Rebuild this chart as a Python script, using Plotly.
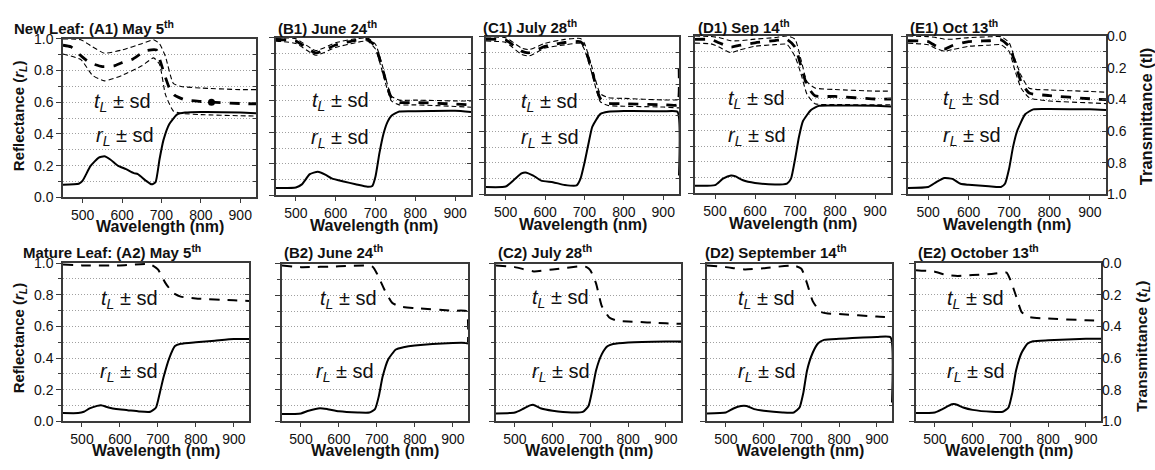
import plotly.graph_objects as go

# ---------------- DATA ----------------
# Row 1 : New leaf
WL_A1_R = [450, 490, 500, 520, 540, 555, 570, 590, 610, 630, 640, 660, 675, 685, 695, 705, 720, 740, 760, 800, 900, 940]
R_A1 = [0.080, 0.086, 0.106, 0.198, 0.249, 0.259, 0.239, 0.198, 0.178, 0.153, 0.147, 0.106, 0.082, 0.096, 0.239, 0.361, 0.463, 0.524, 0.535, 0.539, 0.535, 0.530]
WL_A1_T = [450, 470, 495, 518, 550, 580, 600, 625, 660, 687, 697, 707, 720, 733, 760, 800, 900, 940]
T_A1 = [0.04, 0.05, 0.105, 0.15, 0.175, 0.17, 0.15, 0.13, 0.075, 0.07, 0.14, 0.22, 0.31, 0.355, 0.385, 0.395, 0.408, 0.41]
WL_A1_TSD = [450, 495, 525, 555, 600, 650, 680, 695, 710, 730, 750, 800, 900, 940]
T_A1_HI = [0.0, 0.005, 0.05, 0.09, 0.07, 0.03, 0.005, 0.03, 0.11, 0.28, 0.30, 0.31, 0.32, 0.32]
T_A1_LO = [0.095, 0.13, 0.23, 0.265, 0.23, 0.17, 0.12, 0.16, 0.35, 0.455, 0.47, 0.478, 0.485, 0.487]
DOT_A1_WL = [827]
DOT_A1_T = [0.40]

WL_B1_R = [450, 500, 515, 535, 555, 575, 590, 620, 650, 680, 692, 700, 710, 720, 730, 740, 760, 800, 900, 940]
R_B1 = [0.047, 0.05, 0.07, 0.135, 0.15, 0.13, 0.108, 0.088, 0.071, 0.055, 0.06, 0.12, 0.27, 0.39, 0.465, 0.506, 0.533, 0.535, 0.537, 0.53]
WL_B1_T = [450, 500, 550, 600, 650, 680, 700, 720, 740, 760, 800, 900, 940]
T_B1 = [0.01, 0.02, 0.095, 0.045, 0.015, 0.01, 0.055, 0.22, 0.38, 0.41, 0.41, 0.42, 0.425]
T_B1_HI = [0.0, 0.005, 0.08, 0.03, 0.005, 0.0, 0.04, 0.20, 0.37, 0.395, 0.395, 0.40, 0.40]
T_B1_LO = [0.02, 0.035, 0.11, 0.06, 0.03, 0.02, 0.07, 0.24, 0.40, 0.425, 0.425, 0.435, 0.44]

WL_C1_R = [450, 500, 520, 540, 550, 570, 590, 620, 650, 680, 690, 700, 710, 720, 740, 760, 800, 900, 936, 940]
R_C1 = [0.047, 0.05, 0.09, 0.133, 0.14, 0.12, 0.088, 0.078, 0.06, 0.057, 0.10, 0.20, 0.32, 0.43, 0.51, 0.525, 0.53, 0.528, 0.525, 0.12]
WL_C1_T = [450, 500, 540, 560, 600, 650, 690, 700, 720, 740, 760, 800, 900, 936, 940]
T_C1 = [0.014, 0.02, 0.09, 0.10, 0.06, 0.035, 0.03, 0.06, 0.225, 0.39, 0.42, 0.424, 0.43, 0.43, 0.17]
T_C1_HI = [0.0, 0.005, 0.07, 0.08, 0.04, 0.015, 0.01, 0.04, 0.20, 0.36, 0.385, 0.39, 0.40, 0.40, 0.40]
T_C1_LO = [0.025, 0.035, 0.11, 0.12, 0.07, 0.05, 0.04, 0.08, 0.24, 0.41, 0.435, 0.44, 0.445, 0.45, 0.45]

WL_D1_R = [450, 500, 520, 540, 550, 570, 600, 650, 680, 690, 700, 710, 720, 740, 760, 800, 900, 940]
R_D1 = [0.049, 0.053, 0.094, 0.114, 0.11, 0.084, 0.067, 0.057, 0.063, 0.094, 0.216, 0.36, 0.46, 0.53, 0.557, 0.559, 0.557, 0.553]
WL_D1_T = [450, 490, 510, 540, 560, 600, 650, 680, 700, 715, 730, 750, 800, 900, 940]
T_D1 = [0.022, 0.022, 0.043, 0.07, 0.06, 0.043, 0.029, 0.022, 0.07, 0.19, 0.314, 0.38, 0.384, 0.40, 0.40]
T_D1_HI = [0.0, 0.003, 0.01, 0.03, 0.03, 0.02, 0.01, 0.0, 0.02, 0.15, 0.29, 0.33, 0.34, 0.35, 0.35]
T_D1_LO = [0.045, 0.05, 0.07, 0.106, 0.09, 0.065, 0.055, 0.053, 0.13, 0.24, 0.37, 0.43, 0.435, 0.437, 0.437]

WL_E1_R = [450, 500, 520, 540, 560, 580, 600, 650, 680, 690, 700, 710, 720, 740, 760, 800, 900, 940]
R_E1 = [0.041, 0.047, 0.078, 0.104, 0.098, 0.067, 0.061, 0.051, 0.047, 0.067, 0.16, 0.30, 0.40, 0.506, 0.537, 0.539, 0.537, 0.533]
WL_E1_T = [450, 500, 520, 540, 560, 600, 650, 680, 700, 715, 730, 750, 800, 900, 940]
T_E1 = [0.03, 0.035, 0.065, 0.082, 0.06, 0.035, 0.03, 0.024, 0.065, 0.167, 0.29, 0.36, 0.376, 0.396, 0.402]
T_E1_HI = [0.0, 0.004, 0.01, 0.02, 0.02, 0.01, 0.005, 0.004, 0.04, 0.15, 0.25, 0.33, 0.34, 0.35, 0.355]
T_E1_LO = [0.045, 0.055, 0.08, 0.096, 0.086, 0.065, 0.058, 0.055, 0.096, 0.22, 0.33, 0.39, 0.41, 0.422, 0.427]

# Row 2 : Mature leaf
WL_A2_R = [450, 490, 505, 520, 540, 550, 570, 590, 620, 650, 680, 695, 705, 715, 730, 745, 760, 800, 850, 900, 940]
R_A2 = [0.053, 0.053, 0.061, 0.082, 0.098, 0.102, 0.088, 0.078, 0.071, 0.063, 0.061, 0.088, 0.18, 0.28, 0.40, 0.476, 0.49, 0.50, 0.51, 0.52, 0.52]
WL_A2_T = [450, 500, 600, 680, 700, 720, 740, 760, 800, 900, 940]
T_A2 = [0.01, 0.015, 0.015, 0.008, 0.04, 0.127, 0.188, 0.212, 0.224, 0.235, 0.24]

WL_B2_R = [450, 500, 520, 550, 570, 600, 650, 680, 695, 705, 715, 730, 750, 770, 800, 900, 935, 940]
R_B2 = [0.047, 0.051, 0.068, 0.084, 0.078, 0.064, 0.057, 0.057, 0.078, 0.16, 0.283, 0.395, 0.457, 0.471, 0.482, 0.498, 0.498, 0.495]
WL_B2_T = [450, 500, 600, 680, 690, 700, 720, 740, 760, 800, 900, 936, 940]
T_B2 = [0.01, 0.02, 0.015, 0.01, 0.02, 0.06, 0.164, 0.246, 0.27, 0.28, 0.297, 0.30, 0.50]

WL_C2_R = [450, 500, 520, 540, 550, 570, 600, 650, 680, 695, 705, 715, 730, 745, 760, 800, 900, 940]
R_C2 = [0.051, 0.057, 0.078, 0.102, 0.105, 0.082, 0.068, 0.057, 0.061, 0.098, 0.20, 0.324, 0.426, 0.477, 0.492, 0.502, 0.508, 0.508]
WL_C2_T = [450, 500, 550, 600, 680, 690, 700, 715, 730, 750, 770, 800, 900, 940]
T_C2 = [0.01, 0.02, 0.047, 0.035, 0.014, 0.02, 0.04, 0.123, 0.266, 0.34, 0.36, 0.365, 0.377, 0.38]

WL_D2_R = [450, 500, 520, 540, 555, 575, 600, 650, 680, 695, 705, 715, 730, 745, 760, 800, 900, 936, 940]
R_D2 = [0.051, 0.057, 0.082, 0.098, 0.098, 0.078, 0.068, 0.057, 0.057, 0.088, 0.18, 0.324, 0.436, 0.498, 0.518, 0.525, 0.537, 0.535, 0.12]
WL_D2_T = [450, 500, 550, 600, 680, 700, 715, 730, 750, 770, 800, 900, 940]
T_D2 = [0.01, 0.02, 0.035, 0.027, 0.01, 0.03, 0.123, 0.236, 0.303, 0.314, 0.318, 0.334, 0.338]

WL_E2_R = [450, 500, 520, 545, 555, 575, 600, 650, 680, 695, 705, 715, 730, 745, 760, 800, 900, 940]
R_E2 = [0.053, 0.057, 0.078, 0.108, 0.108, 0.088, 0.073, 0.061, 0.061, 0.088, 0.18, 0.322, 0.435, 0.49, 0.506, 0.512, 0.522, 0.522]
WL_E2_T = [450, 500, 530, 560, 600, 650, 680, 690, 700, 715, 730, 750, 800, 900, 940]
T_E2 = [0.045, 0.055, 0.076, 0.082, 0.076, 0.069, 0.061, 0.06, 0.106, 0.208, 0.31, 0.341, 0.351, 0.361, 0.365]

TITLES = [
    "New Leaf: (A1) May 5<sup>th</sup>", "(B1) June 24<sup>th</sup>", "(C1) July 28<sup>th</sup>",
    "(D1) Sep 14<sup>th</sup>", "(E1) Oct 13<sup>th</sup>",
    "Mature Leaf: (A2) May 5<sup>th</sup>", "(B2) June 24<sup>th</sup>", "(C2) July 28<sup>th</sup>",
    "(D2) September 14<sup>th</sup>", "(E2) October 13<sup>th</sup>",
]
X_TICKS = [500, 600, 700, 800, 900]
Y_TICKS = [0.0, 0.2, 0.4, 0.6, 0.8, 1.0]
X_RANGE = [450, 940]
X_TITLE = "<b>Wavelength (nm)</b>"
T_LABEL = "<i>t</i><sub><i>L</i></sub> ± sd"
R_LABEL = "<i>r</i><sub><i>L</i></sub> ± sd"

# ---------------- LAYOUT GEOMETRY (pixels) ----------------
W, H = 1155, 470
# (left, right, top, bottom) of every plot frame
FRAMES = [
    (63, 256, 32, 196), (276, 471, 31, 194), (486, 679, 30, 193), (695, 891, 29, 192), (908, 1106, 29, 193),
    (63, 249, 264, 428), (282, 468, 265, 428), (496, 681, 265, 428), (707, 892, 265, 428), (916, 1101, 264, 428),
]
TITLE_POS = [(12, 20), (276, 20), (481, 19), (696, 19), (908, 19),
             (21, 252), (282, 252), (496, 252), (703, 252), (916, 252)]
XTITLE_Y = [226, 225, 224, 223, 224, 458, 458, 458, 458, 458]
# label positions (wavelength, reflectance-scale) for the two in-plot labels
LBL_T = [(602, 0.60), (612, 0.598), (612, 0.584), (604, 0.594), (608, 0.598),
         (624, 0.771), (624, 0.775), (622, 0.778), (608, 0.775), (608, 0.77)]
LBL_R = [(607, 0.385), (612, 0.363), (612, 0.355), (604, 0.363), (608, 0.363),
         (624, 0.312), (616, 0.313), (622, 0.313), (608, 0.313), (608, 0.31)]

FONT = "Liberation Sans, Arial, Helvetica, sans-serif"
FRAME_COLOR = "#3a3a3a"
GRID_COLOR = "#a0a0a0"
GRID_DASH = "1px,2px"

ROW1 = [
    dict(wr=WL_A1_R, r=R_A1, wt=WL_A1_T, t=T_A1, wsd=WL_A1_TSD, hi=T_A1_HI, lo=T_A1_LO),
    dict(wr=WL_B1_R, r=R_B1, wt=WL_B1_T, t=T_B1, wsd=WL_B1_T, hi=T_B1_HI, lo=T_B1_LO),
    dict(wr=WL_C1_R, r=R_C1, wt=WL_C1_T, t=T_C1, wsd=WL_C1_T, hi=T_C1_HI, lo=T_C1_LO),
    dict(wr=WL_D1_R, r=R_D1, wt=WL_D1_T, t=T_D1, wsd=WL_D1_T, hi=T_D1_HI, lo=T_D1_LO),
    dict(wr=WL_E1_R, r=R_E1, wt=WL_E1_T, t=T_E1, wsd=WL_E1_T, hi=T_E1_HI, lo=T_E1_LO),
]
ROW2 = [
    dict(wr=WL_A2_R, r=R_A2, wt=WL_A2_T, t=T_A2),
    dict(wr=WL_B2_R, r=R_B2, wt=WL_B2_T, t=T_B2),
    dict(wr=WL_C2_R, r=R_C2, wt=WL_C2_T, t=T_C2),
    dict(wr=WL_D2_R, r=R_D2, wt=WL_D2_T, t=T_D2),
    dict(wr=WL_E2_R, r=R_E2, wt=WL_E2_T, t=T_E2),
]
PANELS = ROW1 + ROW2

fig = go.Figure()
layout = {}
annotations = []


def ax_name(prefix, n):
    return prefix if n == 1 else f"{prefix}{n}"


for i, p in enumerate(PANELS):
    n = i + 1
    xid = n
    xtop = n + 10
    yr_id = 2 * i + 1
    yt_id = 2 * i + 2
    xa = ax_name("x", xid)
    yr = ax_name("y", yr_id)
    yt = ax_name("y", yt_id)
    l, r, t, b = FRAMES[i]
    xdom = [l / W, r / W]
    ydom = [1 - b / H, 1 - t / H]
    col = i % 5
    row = i // 5

    # transmittance
    if row == 0:
        fig.add_trace(go.Scatter(x=p["wsd"], y=p["hi"], xaxis=xa, yaxis=yt, mode="lines",
                                 line=dict(color="black", width=1.1, dash="5px,3px", shape="spline", smoothing=0.5),
                                 showlegend=False, hoverinfo="skip"))
        fig.add_trace(go.Scatter(x=p["wsd"], y=p["lo"], xaxis=xa, yaxis=yt, mode="lines",
                                 line=dict(color="black", width=1.1, dash="5px,3px", shape="spline", smoothing=0.5),
                                 showlegend=False, hoverinfo="skip"))
        fig.add_trace(go.Scatter(x=p["wt"], y=p["t"], xaxis=xa, yaxis=yt, mode="lines",
                                 line=dict(color="black", width=2.8, dash="10px,9px", shape="spline", smoothing=0.5),
                                 showlegend=False, hoverinfo="skip"))
    else:
        fig.add_trace(go.Scatter(x=p["wt"], y=p["t"], xaxis=xa, yaxis=yt, mode="lines",
                                 line=dict(color="black", width=2, dash="10px,8px", shape="spline", smoothing=0.5),
                                 showlegend=False, hoverinfo="skip"))
    # reflectance
    fig.add_trace(go.Scatter(x=p["wr"], y=p["r"], xaxis=xa, yaxis=yr, mode="lines",
                             line=dict(color="black", width=2, shape="spline", smoothing=0.5),
                             showlegend=False, hoverinfo="skip"))
    if i == 0:
        fig.add_trace(go.Scatter(x=DOT_A1_WL, y=DOT_A1_T, xaxis=xa, yaxis=yt, mode="markers",
                                 marker=dict(color="black", size=7), showlegend=False, hoverinfo="skip"))

    tickfont = dict(family=FONT, size=14, color="#111")
    layout[ax_name("xaxis", xid)] = dict(
        domain=xdom, anchor=yr, range=X_RANGE, tickvals=X_TICKS, ticks="outside", ticklen=4,
        tickcolor=FRAME_COLOR, showline=True, linecolor=FRAME_COLOR, linewidth=1.5, mirror=True,
        showgrid=False, zeroline=False, tickfont=tickfont,
    )
    layout[f"xaxis{xtop}"] = dict(
        domain=xdom, anchor=yr, overlaying=xa, side="top", range=X_RANGE, tickvals=X_TICKS,
        ticks="inside", ticklen=4, tickcolor=FRAME_COLOR, showticklabels=False, showline=False,
        showgrid=False, zeroline=False,
    )
    layout[ax_name("yaxis", yr_id)] = dict(
        domain=ydom, anchor=xa, range=[0, 1], tickvals=Y_TICKS, tickformat=".1f",
        ticks="outside", ticklen=5, tickcolor=FRAME_COLOR, showticklabels=(col == 0),
        showline=True, linecolor=FRAME_COLOR, linewidth=1.5, mirror=True,
        showgrid=True, gridcolor=GRID_COLOR, griddash=GRID_DASH, gridwidth=1, zeroline=False,
        tickfont=tickfont,
        minor=dict(dtick=0.1, tick0=0, ticks="outside", ticklen=3, tickcolor=FRAME_COLOR,
                   showgrid=True, gridcolor=GRID_COLOR, griddash=GRID_DASH, gridwidth=1),
    )
    layout[ax_name("yaxis", yt_id)] = dict(
        domain=ydom, anchor=xa, overlaying=yr, side="right", range=[1, 0], tickvals=Y_TICKS,
        tickformat=".1f", ticks="inside", ticklen=4, tickcolor=FRAME_COLOR,
        showticklabels=(col == 4), showline=False, showgrid=False, zeroline=False, tickfont=tickfont,
        minor=dict(dtick=0.1, tick0=0, ticks="inside", ticklen=3, tickcolor=FRAME_COLOR, showgrid=False),
    )

    # panel title
    tx, ty = TITLE_POS[i]
    annotations.append(dict(text=f"<b>{TITLES[i]}</b>", x=tx / W, y=1 - ty / H, xref="paper", yref="paper",
                            xanchor="left", yanchor="middle", showarrow=False,
                            font=dict(family=FONT, size=15, color="#111")))
    # x axis title
    annotations.append(dict(text=X_TITLE, x=(l + r) / 2 / W, y=1 - XTITLE_Y[i] / H, xref="paper", yref="paper",
                            xanchor="center", yanchor="middle", showarrow=False,
                            font=dict(family=FONT, size=16, color="#111")))
    # in-plot labels
    for (lx, ly), txt in ((LBL_T[i], T_LABEL), (LBL_R[i], R_LABEL)):
        annotations.append(dict(text=txt, x=lx, y=ly, xref=xa, yref=yr, xanchor="center", yanchor="middle",
                                showarrow=False, font=dict(family=FONT, size=20, color="#111")))

# y axis titles
annotations += [
    dict(text="<b>Reflectance (<i>r</i><sub><i>L</i></sub>)</b>", x=19 / W, y=1 - 112 / H, textangle=-90,
         xref="paper", yref="paper", xanchor="center", yanchor="middle", showarrow=False,
         font=dict(family=FONT, size=15, color="#111")),
    dict(text="<b>Reflectance (<i>r</i><sub><i>L</i></sub>)</b>", x=19 / W, y=1 - 342 / H, textangle=-90,
         xref="paper", yref="paper", xanchor="center", yanchor="middle", showarrow=False,
         font=dict(family=FONT, size=15, color="#111")),
    dict(text="<b>Transmittance (tl)</b>", x=1146 / W, y=1 - 112 / H, textangle=-90,
         xref="paper", yref="paper", xanchor="center", yanchor="middle", showarrow=False,
         font=dict(family=FONT, size=16.5, color="#111")),
    dict(text="<b>Transmittance (<i>t</i><sub><i>L</i></sub>)</b>", x=1142 / W, y=1 - 350 / H, textangle=-90,
         xref="paper", yref="paper", xanchor="center", yanchor="middle", showarrow=False,
         font=dict(family=FONT, size=15.5, color="#111")),
]

fig.update_layout(
    width=W, height=H, margin=dict(l=0, r=0, t=0, b=0),
    paper_bgcolor="white", plot_bgcolor="white",
    annotations=annotations, showlegend=False,
    font=dict(family=FONT, color="#111"),
    **layout,
)

fig.write_html("out.html", config={"displayModeBar": False},
               post_script="document.body.style.margin='0';document.body.style.overflow='hidden';")
